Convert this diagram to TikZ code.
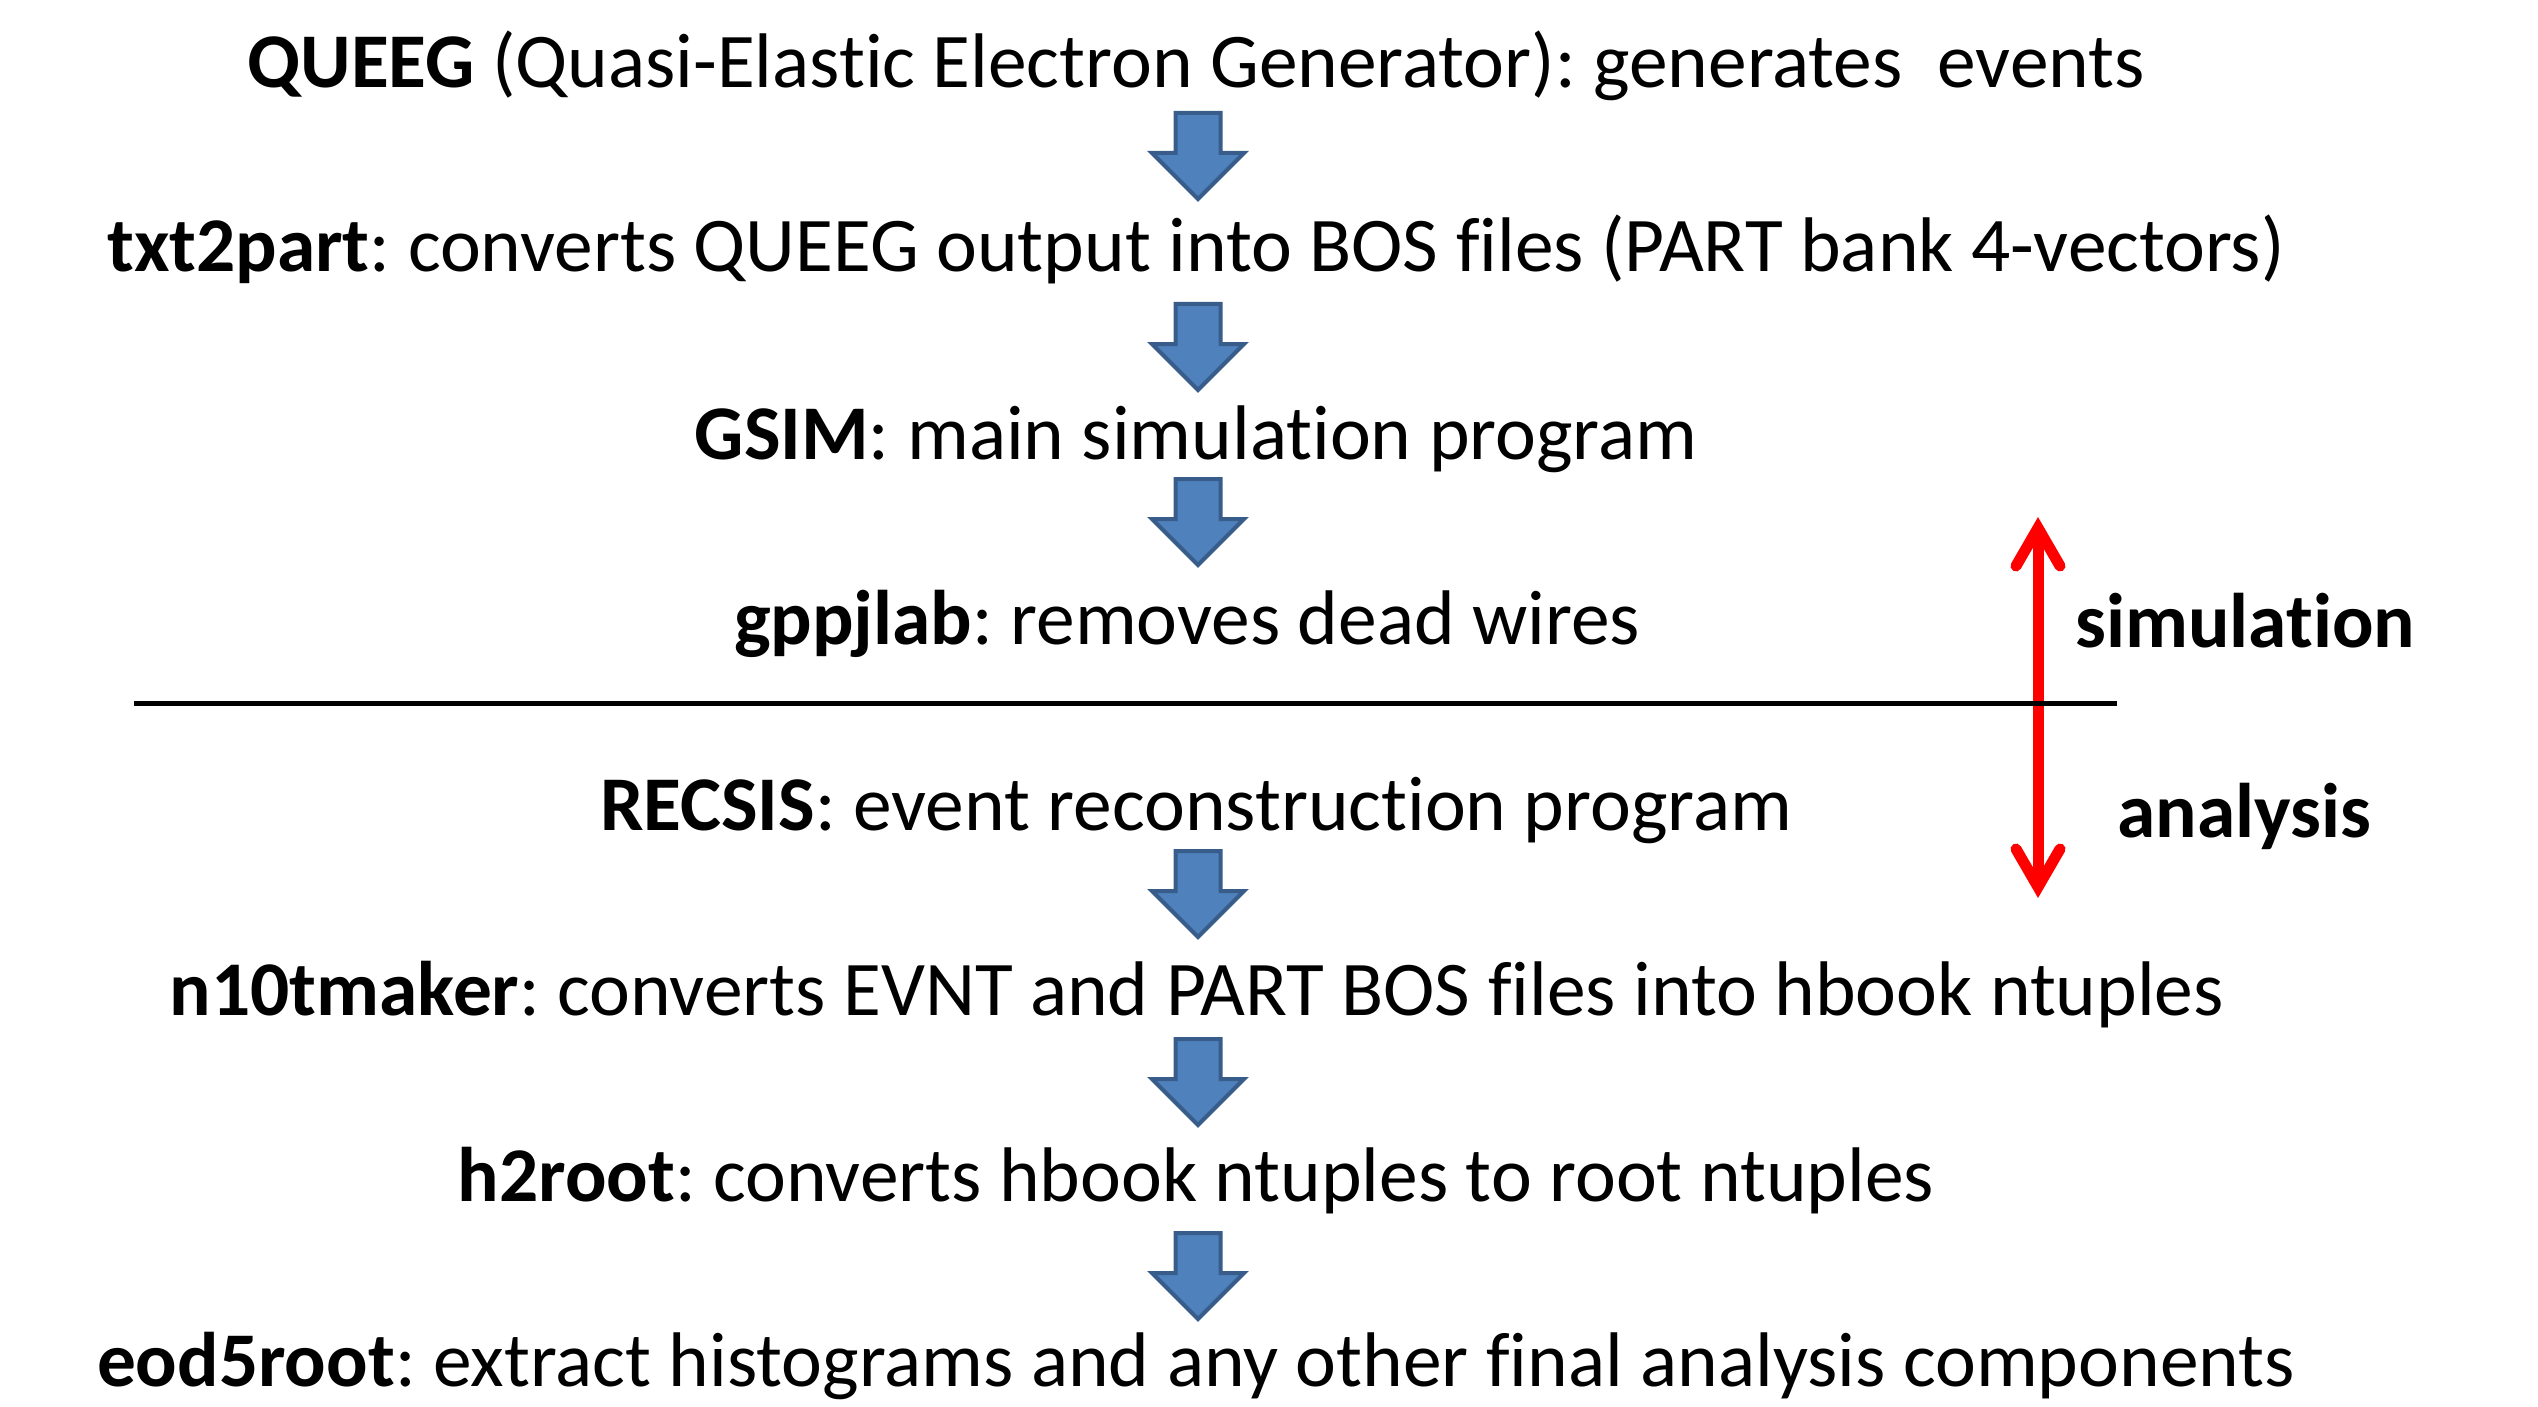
\documentclass[tikz,border=0pt]{standalone}
\usepackage{fontspec}
\setmainfont{Carlito}[Ligatures=CommonOff]
\definecolor{afill}{HTML}{4F81BD}
\definecolor{aline}{HTML}{385D8A}
\definecolor{rarrow}{HTML}{FF0000}
\begin{document}
\frenchspacing
\begin{tikzpicture}[x=0.5pt,y=-0.5pt,
  txt/.style={anchor=base,inner sep=0pt,font=\fontsize{38.7}{46}\selectfont},
  side/.style={anchor=base west,inner sep=0pt,font=\fontsize{38.7}{46}\selectfont\bfseries},
  barrow/.style={fill=afill,draw=aline,line width=2pt,line join=miter},
  blockarrow/.pic={\draw[barrow] (-22.5,0) -- (22.5,0) -- (22.5,40) -- (46,40) -- (0,86) -- (-46,40) -- (-22.5,40) -- cycle;}
]
\useasboundingbox (0,0) rectangle (2538,1407);
\node[txt] (queeg) at (1196,88) {\textbf{QUEEG} (Quasi-Elastic Electron Generator): generates\ \ events};
\node[txt] (txt) at (1196,272) {\textbf{txt2part}: converts QUEEG output into BOS files (PART bank 4-vectors)};
\node[txt] (gsim) at (1196,459) {\textbf{GSIM}: main simulation program};
\node[txt] (gpp) at (1187,644) {\textbf{gppjlab}: removes dead wires};
\node[txt] (rec) at (1196,830) {\textbf{RECSIS}: event reconstruction program};
\node[txt] (n10) at (1197,1015) {\textbf{n10tmaker}: converts EVNT and PART BOS files into hbook ntuples};
\node[txt] (h2r) at (1196,1201) {\textbf{h2root}: converts hbook ntuples to root ntuples};
\node[txt] (eod) at (1196,1386) {\textbf{eod5root}: extract histograms and any other final analysis components};

\pic at (1198,113) {blockarrow};
\pic at (1198,304) {blockarrow};
\pic at (1198,479) {blockarrow};
\pic at (1198,851) {blockarrow};
\pic at (1198,1039) {blockarrow};
\pic at (1198,1233) {blockarrow};

\coordinate (rtop) at (2038,528);
\coordinate (rbot) at (2038,887);
\draw[rarrow,line width=5.5pt] (rtop) -- (rbot);
\draw[rarrow,line width=5.5pt,line cap=round,line join=miter] (2016,566) -- (rtop) -- (2060,566);
\draw[rarrow,line width=5.5pt,line cap=round,line join=miter] (2016,849) -- (rbot) -- (2060,849);

\coordinate (la) at (134,703);
\coordinate (lb) at (2117,703);
\draw[black,line width=2.5pt] (la) -- (lb);

\node[side] (sim) at (2075,647) {simulation};
\node[side] (ana) at (2117,837) {analysis};
\end{tikzpicture}
\end{document}
